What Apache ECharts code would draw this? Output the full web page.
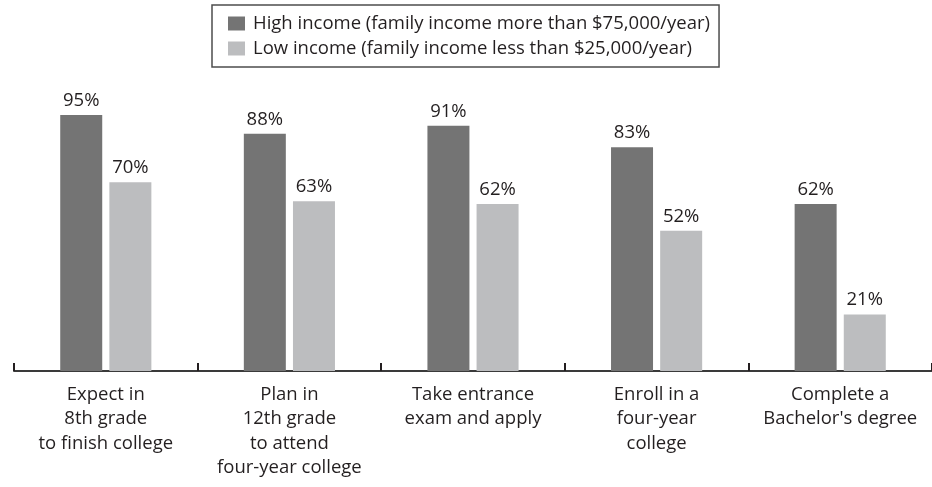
<!DOCTYPE html>
<html>
<head>
<meta charset="utf-8">
<script src="https://cdn.jsdelivr.net/npm/echarts@6/dist/echarts.min.js"></script>
<style>
  html, body { margin: 0; padding: 0; background: #fff; }
  #chart { width: 932px; height: 487px; }
</style>
</head>
<body>
<div id="chart"></div>
<script>
// College pipeline steps, by family income
const categories = [
  'Expect in\n8th grade\nto finish college',
  'Plan in\n12th grade\nto attend\nfour-year college',
  'Take entrance\nexam and apply',
  'Enroll in a\nfour-year\ncollege',
  'Complete a\nBachelor\'s degree'
];
const seriesNames = [
  'High income (family income more than $75,000/year)',
  'Low income (family income less than $25,000/year)'
];
const highIncome = [95, 88, 91, 83, 62];
const lowIncome = [70, 63, 62, 52, 21];

const FONT = '"Open Sans", "Noto Sans", sans-serif';
const TEXT = '#231f20';
const chart = echarts.init(document.getElementById('chart'), null, { renderer: 'canvas' });

const labelStyle = {
  show: true,
  position: 'top',
  distance: 5,
  formatter: p => p.value + '%',
  fontFamily: FONT,
  fontSize: 18.5,
  color: TEXT
};

chart.setOption({
  animation: false,
  backgroundColor: '#ffffff',
  legend: {
    orient: 'vertical',
    left: 212,
    top: 5,
    padding: [9, 9, 9, 16],
    itemGap: 6,
    itemWidth: 17,
    itemHeight: 14,
    borderColor: '#4d4d4d',
    borderWidth: 1.5,
    icon: 'rect',
    textStyle: { fontFamily: FONT, fontSize: 18.5, lineHeight: 19, color: TEXT, padding: [0, 0, 0, 3] },
    data: seriesNames
  },
  grid: { left: 14, right: -7, top: 101.5, bottom: 116 },
  xAxis: {
    type: 'category',
    data: categories,
    axisLine: { lineStyle: { color: '#3a3a3a', width: 2 } },
    axisTick: { show: true, inside: true, length: 8, lineStyle: { color: TEXT, width: 2 } },
    axisLabel: {
      margin: 11,
      fontFamily: FONT,
      fontSize: 18.5,
      lineHeight: 24.5,
      color: TEXT,
      interval: 0
    }
  },
  yAxis: {
    type: 'value',
    min: 0,
    max: 100,
    show: false,
    splitLine: { show: false }
  },
  series: [
    {
      name: seriesNames[0],
      type: 'bar',
      data: highIncome,
      barWidth: 42,
      barGap: '17%',
      itemStyle: { color: '#747474' },
      label: labelStyle
    },
    {
      name: seriesNames[1],
      type: 'bar',
      data: lowIncome,
      barWidth: 42,
      itemStyle: { color: '#bcbdbf' },
      label: labelStyle
    }
  ]
});
</script>
</body>
</html>
